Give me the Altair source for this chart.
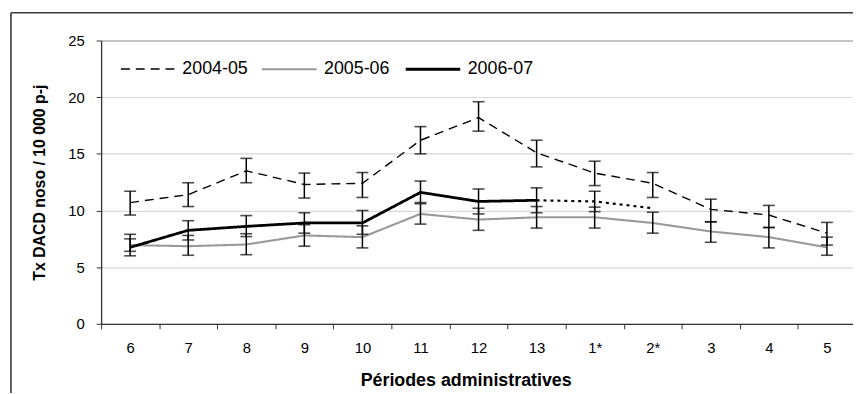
import altair as alt
import pandas as pd

categories = ["6", "7", "8", "9", "10", "11", "12", "13", "1*", "2*", "3", "4", "5"]
series_names = ["2004-05", "2005-06", "2006-07"]

v0405 = [10.7, 11.4, 13.5, 12.3, 12.4, 16.2, 18.2, 15.1, 13.3, 12.4, 10.1, 9.6, 8.0]
lo0405 = [9.6, 10.35, 12.45, 11.1, 11.15, 15.0, 17.0, 13.85, 12.2, 11.15, 9.0, 8.5, 6.95]
hi0405 = [11.7, 12.45, 14.6, 13.3, 13.35, 17.4, 19.6, 16.2, 14.35, 13.35, 11.0, 10.45, 8.95]

v0506 = [6.95, 6.85, 7.0, 7.8, 7.65, 9.7, 9.2, 9.4, 9.4, 8.9, 8.15, 7.65, 6.75]
lo0506 = [6.4, 6.05, 6.1, 6.85, 6.7, 8.8, 8.25, 8.45, 8.45, 8.0, 7.2, 6.7, 6.05]
hi0506 = [7.5, 7.8, 7.95, 8.75, 8.65, 10.6, 10.2, 10.35, 10.3, 9.85, 9.0, 8.5, 7.65]

cats0607 = ["6", "7", "8", "9", "10", "11", "12", "13"]
v0607 = [6.75, 8.25, 8.6, 8.9, 8.9, 11.6, 10.8, 10.9]
lo0607 = [6.0, 7.4, 7.7, 8.0, 7.9, 10.7, 9.7, 9.8]
hi0607 = [7.9, 9.1, 9.55, 9.8, 10.0, 12.6, 11.9, 12.0]

# projected (dotted) continuation of 2006-07
proj_cats = ["13", "1*", "2*"]
proj_vals = [10.9, 10.8, 10.2]
proj_err_cat = ["1*"]
proj_err_lo = [9.9]
proj_err_hi = [11.7]

rows = []
for c, v, lo, hi in zip(categories, v0405, lo0405, hi0405):
    rows.append({"cat": c, "serie": "2004-05", "v": v, "lo": lo, "hi": hi})
for c, v, lo, hi in zip(categories, v0506, lo0506, hi0506):
    rows.append({"cat": c, "serie": "2005-06", "v": v, "lo": lo, "hi": hi})
for c, v, lo, hi in zip(cats0607, v0607, lo0607, hi0607):
    rows.append({"cat": c, "serie": "2006-07", "v": v, "lo": lo, "hi": hi})
df = pd.DataFrame(rows)

err_rows = [{"cat": r["cat"], "lo": r["lo"], "hi": r["hi"]} for r in rows]
for c, lo, hi in zip(proj_err_cat, proj_err_lo, proj_err_hi):
    err_rows.append({"cat": c, "lo": lo, "hi": hi})
df_err = pd.DataFrame(err_rows)

df_proj = pd.DataFrame({"cat": proj_cats, "v": proj_vals})

FONT = "Liberation Sans"

xenc = alt.X(
    "cat:N",
    sort=categories,
    scale=alt.Scale(type="band", range=[0, 762], paddingInner=0, paddingOuter=0),
    axis=alt.Axis(
        title="Périodes administratives",
        tickBand="extent",
        labelAngle=0,
        labelFontSize=15,
        labelFont=FONT,
        labelColor="black",
        labelPadding=12,
        tickSize=5,
        tickColor="#333333",
        domainColor="#333333",
        domainWidth=1.3,
        grid=False,
        titleFont=FONT,
        titleFontSize=18,
        titleFontWeight="bold",
        titleColor="black",
        titlePadding=16,
        titleX=368,
    ),
)

yscale = alt.Scale(domain=[0, 25])
yaxis = alt.Axis(
    title="Tx DACD noso / 10 000 p-j",
    values=[0, 5, 10, 15, 20, 25],
    labelFontSize=15,
    labelFont=FONT,
    labelColor="black",
    labelPadding=12,
    tickSize=5,
    tickColor="#333333",
    domainColor="#333333",
    domainWidth=1.3,
    gridColor={"condition": {"test": "datum.value === 25", "value": "#8c8c8c"}, "value": "#d9d9d9"},
    gridWidth=1.2,
    titleFont=FONT,
    titleFontSize=16,
    titleFontWeight="bold",
    titleColor="black",
    titlePadding=20,
)

lines = alt.Chart(df).mark_line().encode(
    x=xenc,
    y=alt.Y("v:Q", scale=yscale, axis=yaxis),
    color=alt.Color(
        "serie:N",
        scale=alt.Scale(domain=series_names, range=["#000000", "#999999", "#000000"]),
        legend=alt.Legend(
            title=None,
            orient="none",
            legendX=19,
            legendY=0,
            direction="horizontal",
            symbolType="stroke",
            symbolSize=3025,
            labelFont=FONT,
            labelFontSize=18,
            labelColor="black",
            labelOffset=6,
            columnPadding=9,
            padding=0,
        ),
    ),
    strokeDash=alt.StrokeDash(
        "serie:N",
        scale=alt.Scale(domain=series_names, range=[[9, 6], [1, 0], [1, 0]]),
        legend=alt.Legend(title=None),
    ),
    strokeWidth=alt.StrokeWidth(
        "serie:N",
        scale=alt.Scale(domain=series_names, range=[1.4, 2.8, 2.5]),
        legend=alt.Legend(title=None),
    ),
)

proj = alt.Chart(df_proj).mark_line(color="black", strokeWidth=2.2, strokeDash=[3, 4]).encode(
    x=alt.X("cat:N", sort=categories), y=alt.Y("v:Q", scale=yscale)
)

err_rule = alt.Chart(df_err).mark_rule(color="black", strokeWidth=1.5).encode(
    x=alt.X("cat:N", sort=categories), y=alt.Y("lo:Q", scale=yscale), y2="hi:Q"
)
cap_lo = alt.Chart(df_err).mark_tick(color="black", size=12, thickness=1.6).encode(
    x=alt.X("cat:N", sort=categories), y=alt.Y("lo:Q", scale=yscale)
)
cap_hi = alt.Chart(df_err).mark_tick(color="black", size=12, thickness=1.6).encode(
    x=alt.X("cat:N", sort=categories), y=alt.Y("hi:Q", scale=yscale)
)

frame_df = pd.DataFrame({"k": [0]})
frame_left = alt.Chart(frame_df).mark_rule(color="#3a3a3a", strokeWidth=1.6).encode(
    x=alt.value(-91), y=alt.value(-28), y2=alt.value(420)
)
frame_top = alt.Chart(frame_df).mark_rule(color="#3a3a3a", strokeWidth=1.6).encode(
    x=alt.value(-91), x2=alt.value(900), y=alt.value(-28)
)

chart = (
    alt.layer(lines, proj, err_rule, cap_lo, cap_hi, frame_left, frame_top)
    .properties(
        width=759,
        height=286,
        autosize=alt.AutoSizeParams(type="none"),
        padding={"left": 94, "top": 31, "right": 0, "bottom": 68},
        background="white",
    )
    .configure_view(stroke=None)
)

chart.save("out.html", embed_options={"renderer": "svg", "actions": False})
